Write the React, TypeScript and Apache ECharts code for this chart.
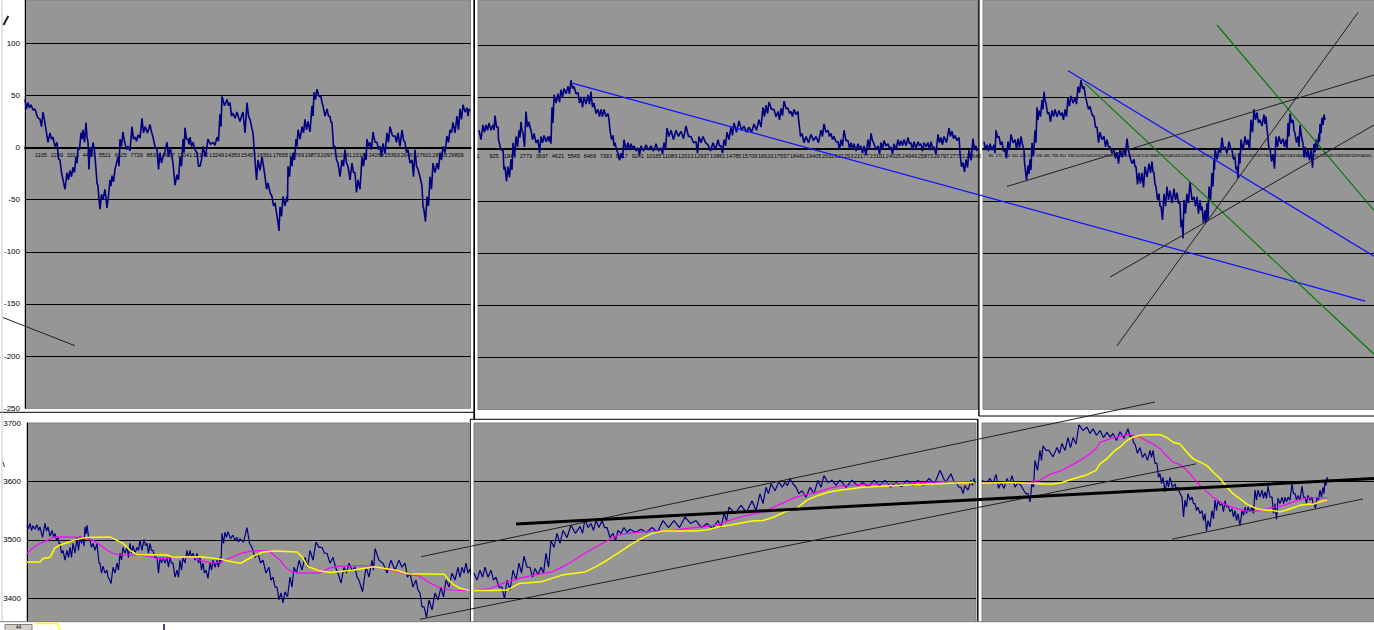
import React, { useEffect, useRef } from "react";
import * as echarts from "echarts";

type R = [number, number, number];
type P = [number, number];

// ---- top row: deviation series (time step, high, low) ----
const top1: R[] = [
  [0,46,37],[3,43,38],[6,41,36],[10,37,29],[15,27,20],[18,34,26],[21,17,5],[25,14,8],[28,10,1],[32,5,-11],[35,-12,-24],[38,-31,-40],[42,-24,-31],[45,-22,-28],[48,-19,-24],[51,-9,-15],[53,0,-2],[56,14,8],[58,17,5],[61,24,10],[63,5,-21],[65,0,-9],[68,5,-3],[71,-21,-34],[73,-37,-50],[75,-59,-45],[78,-50,-40],[82,-58,-46],[85,-31,-37],[87,-27,-33],[90,-21,-15],[93,-9,-18],[95,8,1],[98,15,8],[100,4,-2],[103,1,-3],[107,20,8],[110,10,6],[113,12,9],[117,28,14],[120,20,14],[125,22,15],[128,10,1],[132,-2,-21],[135,-5,-15],[138,-9,-4],[142,5,-9],[145,0,-6],[148,-15,-36],[152,-26,-31],[155,-9,-18],[158,8,-5],[160,19,8],[163,8,3],[165,10,1],[168,5,-2],[172,-5,-18],[175,-18,-12],[178,1,-9],[183,8,3],[188,5,2],[192,10,6],[195,32,20],[197,49,40],[202,46,40],[205,43,30],[208,33,28],[212,34,29],[215,25,30],[218,34,14],[222,43,30],[225,27,20],[228,14,1],[230,-12,-31],[233,-12,-22],[237,-9,-18],[240,-28,-40],[243,-34,-43],[247,-47,-56],[250,-53,-63],[253,-72,-80],[255,-57,-66],[258,-47,-56],[262,-47,-52],[263,-18,-28],[266,-9,-18],[268,-5,-12],[271,8,1],[273,17,8],[277,20,14],[280,27,17],[283,25,15],[287,40,30],[289,53,46],[292,56,49],[296,49,43],[298,40,30],[302,37,30],[305,30,24],[307,24,1],[310,1,-12],[313,-15,-28],[317,-12,-18],[320,-2,-15],[323,-18,-31],[327,-15,-24],[330,-24,-43],[333,-31,-40],[337,-9,-18],[340,-5,-12],[342,8,1],[345,5,-2],[348,15,5],[352,5,-2],[355,1,-9],[358,4,-6],[362,14,5],[365,20,11],[370,11,5],[373,14,1],[377,17,7],[380,5,-5],[383,-2,-15],[387,-12,-28],[390,-2,-18],[393,-21,-28],[397,-37,-56],[399,-60,-71],[402,-47,-56],[405,-28,-40],[408,-15,-24],[412,-15,-21],[415,-5,-12],[418,1,-5],[422,11,5],[425,17,14],[428,24,14],[432,30,17],[435,37,27],[438,41,34],[442,38,30],[444,37,35]
];

const top2: R[] = [
  [1,18,9],[5,23,16],[8,23,18],[11,25,18],[15,23,18],[17,32,21],[20,21,9],[21,9,-1],[25,-1,-20],[27,-17,-31],[30,-17,-27],[33,-10,-20],[35,6,-7],[38,12,2],[41,18,11],[43,26,18],[45,15,2],[48,36,21],[51,26,21],[53,18,9],[56,15,6],[60,9,-4],[63,12,6],[66,13,7],[70,12,7],[72,12,5],[74,40,25],[76,52,44],[80,53,45],[83,57,50],[86,58,53],[90,60,53],[93,66,58],[96,60,53],[100,54,44],[103,50,40],[106,50,43],[110,52,43],[113,55,40],[116,44,34],[120,38,31],[123,38,31],[126,38,31],[130,34,28],[132,18,9],[135,13,3],[137,6,-1],[140,-4,-11],[143,-4,-9],[146,9,-1],[150,6,-1],[153,5,0],[156,3,-2],[160,1,-6],[163,3,-2],[168,4,-1],[173,3,-2],[178,5,-2],[183,1,-5],[186,6,-1],[189,20,12],[193,18,9],[198,18,12],[203,17,10],[208,22,12],[213,12,6],[218,7,-4],[221,12,6],[225,12,6],[230,4,-2],[235,6,-1],[240,9,3],[243,3,-4],[246,9,3],[249,16,9],[253,21,13],[256,25,16],[261,27,18],[266,22,16],[271,21,16],[276,24,18],[281,28,21],[285,40,31],[288,42,34],[291,45,38],[296,38,31],[300,36,28],[303,39,32],[306,46,39],[310,39,34],[313,36,31],[316,38,33],[320,36,29],[321,25,12],[324,15,6],[328,12,6],[333,14,8],[338,12,6],[343,18,12],[346,24,16],[350,18,12],[353,15,9],[356,12,7],[360,7,-1],[363,9,3],[366,18,8],[370,8,1],[373,6,0],[376,5,-2],[380,5,0],[383,3,-4],[386,3,-6],[390,9,0],[393,15,8],[396,5,-1],[400,3,-5],[403,6,0],[406,8,3],[410,5,0],[413,2,-5],[416,5,-1],[420,9,3],[423,8,3],[426,9,3],[430,11,5],[433,6,-1],[436,7,1],[440,7,3],[443,5,-2],[446,6,2],[450,6,-1],[453,7,1],[456,2,-5],[460,14,6],[463,11,4],[466,12,6],[471,20,12],[474,17,10],[477,13,8],[481,11,5],[482,-4,-17],[485,-13,-22],[488,-10,-18],[491,-1,-11],[495,10,-1],[498,3,-2]
];

const top3: R[] = [
  [1,7,-1],[4,4,-2],[7,5,-1],[11,4,-4],[13,18,11],[16,12,4],[19,7,-2],[22,-1,-9],[25,7,-1],[28,14,6],[32,9,0],[35,10,1],[38,12,4],[41,-1,-13],[42,-13,-30],[45,-16,-24],[47,-10,-20],[49,6,-7],[52,18,6],[54,40,28],[56,37,31],[59,47,38],[61,55,47],[63,44,34],[66,35,26],[69,37,31],[72,38,31],[76,37,32],[79,35,28],[82,38,31],[85,49,41],[88,51,44],[92,49,43],[95,60,54],[98,66,58],[101,60,50],[104,44,38],[107,41,33],[111,31,21],[114,21,6],[117,16,9],[121,12,2],[124,9,2],[127,2,-4],[131,-1,-9],[134,-3,-14],[137,-1,-8],[141,1,-7],[144,10,-1],[147,-8,-14],[151,-10,-17],[153,-17,-34],[156,-23,-33],[159,-23,-37],[162,-17,-27],[166,-14,-23],[169,-12,-22],[171,-23,-34],[173,-36,-49],[176,-43,-55],[178,-55,-68],[181,-43,-55],[184,-36,-49],[187,-40,-52],[191,-38,-49],[194,-42,-52],[197,-52,-75],[199,-68,-86],[201,-49,-62],[204,-43,-52],[207,-32,-49],[211,-46,-55],[214,-46,-62],[217,-49,-59],[219,-55,-71],[222,-59,-71],[224,-52,-68],[226,-36,-49],[229,-23,-36],[231,-10,-20],[232,0,-10],[236,1,-4],[239,11,0],[242,2,-4],[246,7,1],[249,-1,-10],[252,-8,-20],[254,-17,-28],[256,-4,-14],[258,9,-1],[262,12,4],[265,9,-1],[268,28,16],[271,38,28],[274,35,25],[277,28,22],[281,33,24],[283,31,19],[285,11,-1],[287,1,-12],[290,-5,-19],[293,12,2],[296,12,5],[300,10,2],[303,9,0],[305,25,12],[307,34,25],[310,28,18],[312,15,6],[315,12,2],[317,23,12],[320,5,-8],[322,2,-8],[325,-1,-11],[328,-1,-18],[331,5,-3],[333,9,1],[336,15,7],[337,24,15],[339,30,23],[341,33,28]
];

// ---- bottom row: index level (time step, high, low) and two moving averages ----
const bot1: R[] = [
  [0,3525,3519],[3,3528,3516],[6,3524,3518],[10,3526,3516],[13,3522,3504],[18,3528,3515],[21,3522,3506],[25,3516,3505],[28,3511,3499],[31,3504,3494],[33,3494,3477],[36,3482,3465],[40,3482,3470],[43,3487,3470],[46,3494,3477],[50,3504,3482],[53,3506,3494],[56,3504,3489],[58,3522,3510],[60,3525,3505],[63,3499,3487],[66,3494,3482],[70,3494,3484],[71,3477,3460],[73,3460,3443],[76,3455,3443],[80,3448,3436],[82,3434,3425],[86,3453,3443],[90,3460,3448],[93,3477,3465],[96,3487,3477],[100,3487,3470],[103,3494,3477],[106,3490,3477],[110,3487,3482],[113,3499,3482],[117,3501,3490],[120,3494,3477],[123,3494,3482],[126,3482,3470],[130,3470,3443],[133,3470,3460],[136,3470,3460],[140,3470,3453],[143,3470,3460],[146,3460,3436],[150,3448,3436],[153,3465,3448],[156,3470,3460],[160,3482,3470],[163,3482,3470],[166,3477,3465],[170,3477,3460],[173,3470,3448],[176,3460,3443],[179,3448,3434],[183,3460,3448],[186,3465,3453],[190,3465,3453],[193,3470,3460],[195,3511,3494],[198,3513,3504],[201,3514,3502],[206,3508,3499],[210,3504,3496],[213,3502,3496],[220,3521,3494],[225,3487,3470],[231,3477,3460],[236,3465,3443],[242,3453,3431],[246,3436,3419],[250,3419,3397],[254,3409,3392],[258,3411,3402],[263,3436,3419],[267,3453,3443],[272,3465,3448],[278,3470,3453],[283,3482,3465],[289,3496,3487],[295,3487,3477],[300,3477,3460],[306,3470,3453],[311,3443,3426],[317,3453,3443],[322,3460,3448],[328,3453,3436],[332,3431,3411],[339,3453,3436],[345,3465,3448],[348,3485,3465],[356,3460,3443],[364,3465,3448],[372,3465,3453],[378,3460,3436],[383,3443,3419],[389,3431,3414],[393,3409,3385],[397,3385,3367],[402,3397,3380],[408,3409,3397],[414,3419,3402],[419,3431,3419],[425,3443,3431],[431,3453,3436],[435,3453,3443],[439,3460,3443],[443,3450,3440]
];
const bot1Fast: P[] = [
  [0,3477],[6,3486],[13,3494],[20,3499],[26,3504],[33,3505],[56,3504],[66,3499],[73,3491],[80,3482],[86,3477],[93,3474],[113,3474],[123,3471],[133,3467],[146,3470],[166,3470],[173,3465],[185,3460],[193,3462],[200,3467],[206,3471],[214,3477],[225,3481],[242,3481],[253,3465],[258,3454],[264,3445],[275,3443],[292,3443],[303,3452],[314,3455],[336,3456],[347,3454],[358,3450],[369,3446],[381,3441],[392,3438],[403,3426],[414,3417],[425,3414],[443,3413]
];
const bot1Slow: P[] = [
  [0,3462],[13,3462],[16,3468],[23,3470],[28,3486],[33,3491],[40,3495],[46,3499],[53,3502],[60,3504],[83,3505],[90,3499],[96,3494],[103,3482],[110,3475],[140,3474],[146,3470],[173,3471],[193,3467],[206,3462],[214,3460],[225,3471],[236,3479],[247,3481],[270,3479],[275,3471],[281,3454],[292,3447],[303,3444],[325,3448],[347,3454],[369,3448],[381,3442],[417,3441],[425,3425],[433,3417],[443,3413]
];

const bot2: R[] = [
  [0,3443,3431],[6,3448,3436],[11,3453,3436],[17,3448,3431],[22,3436,3419],[28,3419,3399],[33,3431,3414],[39,3448,3431],[45,3460,3443],[50,3472,3453],[56,3453,3436],[61,3451,3440],[67,3453,3443],[72,3477,3453],[77,3499,3487],[83,3511,3494],[89,3516,3504],[97,3525,3511],[106,3523,3511],[111,3535,3521],[117,3528,3516],[122,3533,3521],[128,3533,3521],[133,3521,3504],[139,3511,3499],[144,3516,3511],[150,3521,3513],[156,3518,3513],[167,3518,3513],[178,3521,3513],[189,3533,3521],[200,3533,3521],[211,3539,3528],[222,3533,3521],[233,3528,3519],[244,3533,3521],[250,3545,3533],[255,3556,3545],[267,3559,3547],[278,3567,3550],[286,3579,3562],[292,3590,3579],[297,3596,3584],[305,3600,3590],[311,3598,3593],[316,3605,3596],[322,3590,3579],[328,3584,3573],[336,3590,3579],[344,3602,3590],[350,3610,3598],[358,3602,3593],[366,3602,3590],[378,3602,3593],[389,3598,3590],[400,3602,3593],[411,3602,3590],[422,3598,3591],[433,3602,3593],[444,3602,3593],[455,3605,3596],[466,3619,3598],[477,3613,3599],[483,3596,3590],[487,3590,3579],[491,3593,3585],[497,3602,3593],[500,3605,3598]
];
const bot2Fast: P[] = [
  [0,3413],[17,3417],[28,3425],[45,3434],[61,3440],[78,3445],[89,3454],[100,3465],[111,3477],[122,3488],[133,3498],[144,3508],[156,3512],[178,3515],[200,3516],[211,3519],[233,3523],[244,3526],[255,3533],[267,3539],[278,3544],[289,3548],[300,3556],[311,3565],[322,3573],[333,3578],[344,3582],[355,3588],[366,3592],[389,3595],[433,3597],[477,3600],[500,3599]
];
const bot2Slow: P[] = [
  [0,3413],[17,3413],[33,3414],[45,3425],[67,3428],[78,3434],[89,3440],[111,3445],[122,3454],[133,3465],[144,3477],[156,3491],[167,3502],[178,3511],[189,3515],[222,3515],[233,3517],[244,3522],[255,3525],[278,3532],[289,3533],[300,3539],[311,3548],[322,3553],[333,3568],[344,3576],[355,3582],[366,3585],[389,3590],[433,3594],[477,3597],[500,3598]
];

const bot3: R[] = [
  [0,3602,3596],[8,3605,3596],[14,3612,3588],[19,3598,3588],[25,3605,3596],[30,3610,3590],[36,3598,3593],[42,3584,3579],[46,3579,3565],[50,3598,3590],[53,3636,3619],[58,3653,3636],[61,3661,3653],[67,3653,3642],[75,3658,3648],[80,3665,3653],[86,3675,3658],[91,3675,3664],[97,3697,3687],[105,3693,3682],[111,3690,3679],[118,3687,3675],[125,3684,3676],[131,3682,3670],[138,3685,3674],[146,3690,3676],[150,3679,3667],[153,3664,3648],[158,3658,3641],[163,3648,3636],[168,3653,3641],[171,3653,3631],[175,3631,3607],[178,3613,3596],[181,3607,3582],[185,3602,3590],[188,3607,3590],[193,3596,3585],[196,3590,3579],[200,3573,3539],[203,3568,3556],[206,3579,3568],[210,3573,3562],[213,3562,3550],[216,3556,3545],[220,3550,3533],[223,3545,3515],[226,3533,3522],[230,3550,3536],[233,3568,3550],[236,3567,3559],[240,3562,3548],[243,3567,3556],[246,3559,3548],[250,3553,3539],[253,3550,3533],[256,3545,3524],[260,3550,3542],[263,3556,3545],[266,3556,3548],[270,3556,3545],[273,3585,3568],[276,3585,3573],[280,3585,3571],[283,3582,3571],[286,3592,3573],[290,3573,3545],[293,3562,3535],[296,3571,3562],[300,3573,3562],[303,3573,3565],[306,3573,3568],[310,3596,3579],[313,3579,3568],[316,3576,3568],[320,3592,3573],[323,3573,3562],[326,3576,3568],[330,3573,3562],[332,3562,3554],[335,3573,3568],[338,3585,3573],[341,3590,3579],[343,3602,3593],[345,3607,3602]
];
const bot3Fast: P[] = [
  [0,3598],[25,3598],[47,3598],[58,3602],[69,3613],[80,3619],[92,3630],[103,3641],[114,3656],[118,3667],[125,3671],[131,3675],[138,3677],[145,3680],[151,3679],[158,3676],[165,3669],[171,3664],[178,3656],[185,3643],[191,3633],[198,3629],[205,3619],[211,3607],[218,3593],[225,3582],[231,3573],[238,3565],[245,3559],[251,3555],[258,3552],[265,3549],[271,3548],[278,3550],[285,3553],[291,3556],[298,3557],[305,3561],[311,3565],[318,3569],[325,3572],[345,3572]
];
const bot3Slow: P[] = [
  [0,3597],[25,3598],[47,3597],[69,3595],[80,3598],[92,3605],[103,3610],[114,3619],[118,3630],[125,3639],[131,3650],[138,3659],[145,3670],[151,3676],[158,3679],[165,3680],[178,3680],[185,3675],[191,3667],[198,3664],[205,3650],[211,3639],[218,3633],[225,3627],[231,3616],[238,3605],[245,3590],[251,3579],[258,3570],[265,3561],[271,3556],[278,3552],[291,3550],[298,3548],[305,3551],[311,3555],[318,3559],[325,3561],[331,3561],[338,3565],[345,3568]
];

// ---- hand-drawn trend lines, in each panel's own (time step, value) units ----
const top1Trend: P[] = [[-22, -163], [50, -190]];
const top2BlueTrend: P[] = [[95, 63], [887, -146]];
const top3BlueTrend: P[] = [[85, 75], [391, -103]];
const top3GreenA: P[] = [[102, 63], [391, -197]];
const top3GreenB: P[] = [[234, 119], [391, -59]];
const top3BlackA: P[] = [[24, -36], [391, 71]];
const top3BlackB: P[] = [[134, -189], [375, 131]];
const top3BlackC: P[] = [[127, -123], [391, 23]];
const bot2UpperChannel: P[] = [[-53, 3471], [681, 3736]];
const bot2LowerChannel: P[] = [[-54, 3364], [722, 3630]];
const bot2Thick: P[] = [[42, 3527], [900, 3605]];
const bot3Support: P[] = [[190, 3501], [381, 3570]];

const GRAY = "#969696";
const NAVY = "#000080";

function zig(rows: R[]): P[] {
  const out: P[] = [];
  rows.forEach((r, i) => {
    const next = rows[i + 1];
    const d = next ? next[0] - r[0] : 2;
    out.push([r[0], r[1]]);
    out.push([r[0] + d / 2, r[2]]);
  });
  return out;
}

export default function App() {
  const ref = useRef<HTMLDivElement>(null);

  useEffect(() => {
    if (!ref.current) return;
    const chart = echarts.init(ref.current, undefined, { renderer: "svg" });

    const gridBase = { show: true, backgroundColor: GRAY, borderColor: "#808080", borderWidth: 1, outerBoundsMode: "none", containLabel: false };
    const hidden = { show: false, outerBoundsMode: "none", containLabel: false };
    const grid = [
      { ...gridBase, left: 25, top: 0, width: 445.5, height: 408.3 },
      { ...gridBase, left: 478, top: 0, width: 499.7, height: 409.4 },
      { ...gridBase, left: 983, top: 0, width: 395, height: 409.4 },
      { ...gridBase, left: 27, top: 423, width: 442, height: 233.6 },
      { ...gridBase, left: 474, top: 423, width: 502, height: 233.6 },
      { ...gridBase, left: 982, top: 423, width: 395, height: 233.6 },
      // overlays for drawn lines that cross panel edges
      { ...hidden, left: 0, top: 0, width: 471, height: 408.3 },
      { ...hidden, left: 0, top: 0, width: 1374, height: 409.4 },
      { ...hidden, left: 0, top: 364.6, width: 1374, height: 292 },
    ];

    const tickFont = { color: "#000", fontFamily: "Liberation Sans, Arial, sans-serif" };
    const topX = (gi: number, max: number, interval: number, fs: number, offset: number, fmt: (v: number) => string, showMin: boolean) => ({
      type: "value", gridIndex: gi, min: 0, max, interval, position: "bottom", offset,
      axisLine: { show: true, onZero: false, lineStyle: { color: "#000", width: 2 } },
      axisTick: { show: false },
      splitLine: { show: false },
      axisLabel: { ...tickFont, fontSize: fs, margin: 4, formatter: fmt, showMinLabel: showMin, showMaxLabel: false },
    });
    const plainX = (gi: number, min: number, max: number) => ({ type: "value", gridIndex: gi, min, max, show: false });

    const xAxis = [
      topX(0, 445.5, 15.96, 5.5, -260.8, (v: number) => String(Math.round(v / 15.96) * 1104 + 1), false),
      topX(1, 499.7, 15.98, 5.5, -260.4, (v: number) => String(Math.round(v / 15.98) * 924 + 1), true),
      topX(2, 395, 8, 4, -260.4, (v: number) => (v > 384 ? "" : String(Math.round(v / 8) * 85 + 1)), false),
      plainX(3, 0, 442),
      plainX(4, 0, 502),
      plainX(5, 0, 395),
      plainX(6, -25, 446),
      plainX(7, -478, 896),
      plainX(8, -474, 900),
    ];

    const yLab = { ...tickFont, fontSize: 8 };
    const topY = (gi: number, max: number, labels: boolean) => ({
      type: "value", gridIndex: gi, min: -250, max, interval: 50,
      axisLine: { show: labels, onZero: false, lineStyle: { color: "#000", width: 1 } },
      axisTick: { show: false },
      axisLabel: labels ? { ...yLab, margin: 5, showMaxLabel: false } : { show: false },
      splitLine: { show: true, showMinLine: false, showMaxLine: false, lineStyle: { color: "#000", width: 1 } },
    });
    const botY = (gi: number, labels: boolean) => ({
      type: "value", gridIndex: gi, min: 3300, max: 3700, interval: 100,
      axisLine: { show: labels, onZero: false, lineStyle: { color: "#000", width: 1 } },
      axisTick: { show: false },
      axisLabel: labels ? { ...yLab, margin: 6, showMinLabel: false, formatter: (v: number) => String(v) } : { show: false },
      splitLine: { show: true, showMinLine: false, showMaxLine: false, lineStyle: { color: "#000", width: 1 } },
    });
    const plainY = (gi: number, min: number, max: number) => ({ type: "value", gridIndex: gi, min, max, show: false });
    const yAxis = [
      topY(0, 141.4, true), topY(1, 143, false), topY(2, 143, false),
      botY(3, true), botY(4, false), botY(5, false),
      plainY(6, -250, 141.4), plainY(7, -250, 143), plainY(8, 3300, 3800),
    ];

    const line = (idx: number, data: P[], color: string, width: number, z = 2) => ({
      type: "line", xAxisIndex: idx, yAxisIndex: idx, data, symbol: "none", silent: true, z,
      lineStyle: { color, width },
    });
    const trend = (idx: number, data: P[], color: string, width = 1) => ({ ...line(idx, data, color, width, 5), clip: false });

    const series = [
      line(0, zig(top1), NAVY, 1.6),
      line(1, zig(top2), NAVY, 1.6),
      line(2, zig(top3), NAVY, 1.6),
      line(3, zig(bot1), NAVY, 1.2),
      line(3, bot1Fast, "#ff00ff", 1.2),
      line(3, bot1Slow, "#ffff00", 1.5),
      line(4, zig(bot2), NAVY, 1.2),
      line(4, bot2Fast, "#ff00ff", 1.2),
      line(4, bot2Slow, "#ffff00", 1.5),
      line(5, zig(bot3), NAVY, 1.2),
      line(5, bot3Fast, "#ff00ff", 1.2),
      line(5, bot3Slow, "#ffff00", 1.5),
      trend(6, top1Trend, "#202020"),
      trend(7, top2BlueTrend, "#1010ff", 1.2),
      trend(2, top3BlueTrend, "#1010ff", 1.2),
      trend(2, top3GreenA, "#0a7a0a", 1.2),
      trend(2, top3GreenB, "#0a7a0a", 1.2),
      trend(2, top3BlackA, "#202020"),
      trend(2, top3BlackB, "#202020"),
      trend(2, top3BlackC, "#202020"),
      trend(8, bot2UpperChannel, "#202020"),
      trend(8, bot2LowerChannel, "#202020"),
      trend(8, bot2Thick, "#000", 3),
      trend(5, bot3Support, "#202020"),
    ];

    const ln = (x1: number, y1: number, x2: number, y2: number, stroke: string, w: number, z = 3) => ({
      type: "line", z, silent: true, shape: { x1, y1, x2, y2 }, style: { stroke, lineWidth: w },
    });

    const graphic = [
      ln(474.2, 0, 474.2, 419.3, "#000", 1.7),
      ln(0, 412.3, 474.2, 412.3, "#000", 1),
      ln(470, 419.3, 978, 419.3, "#000", 1),
      ln(470.3, 419.3, 470.3, 622, "#000", 1),
      ln(978.9, 0, 978.9, 416, "#000", 1.4),
      ln(978.9, 416, 1374, 416, "#000", 1),
      ln(977.8, 419.3, 977.8, 622, "#000", 1.4),
      ln(2, 0, 2, 630, "#c8c8c8", 1),
      ln(3.5, 25, 8.3, 16, "#202020", 2),
      ln(3, 462, 4.5, 467, "#404040", 1),
      { type: "rect", z: 10, silent: true, shape: { x: 0, y: 622, width: 1374, height: 8 }, style: { fill: "#fff" } },
      ln(0, 621.7, 1374, 621.7, "#808080", 1, 11),
      { type: "rect", z: 11, silent: true, shape: { x: 5, y: 624.5, width: 27, height: 8 }, style: { fill: "#d4d0c8", stroke: "#808080", lineWidth: 1 } },
      { type: "text", z: 12, silent: true, x: 18.5, y: 624.5, style: { text: "44", fontSize: 5, fill: "#000", align: "center", verticalAlign: "top", fontFamily: "Liberation Sans, Arial, sans-serif" } },
      { type: "polyline", z: 12, silent: true, shape: { points: [[35, 623.5], [57, 623.5], [60, 630]] }, style: { stroke: "#ffff00", lineWidth: 1.5, fill: "none" } },
      ln(164, 624, 164, 630, NAVY, 1.5, 12),
    ];

    chart.setOption({
      animation: false,
      backgroundColor: "#fff",
      grid,
      xAxis,
      yAxis,
      series,
      graphic,
    } as any);

    return () => chart.dispose();
  }, []);

  return (
    <div
      ref={ref}
      style={{ position: "fixed", left: 0, top: 0, width: 1374, height: 630, background: "#fff" }}
    />
  );
}
